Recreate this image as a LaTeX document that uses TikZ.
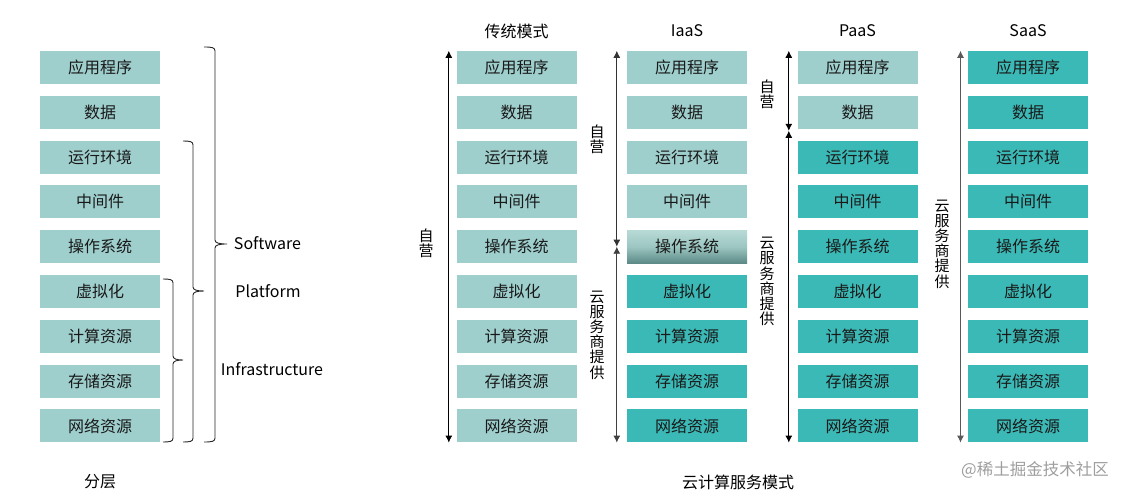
\documentclass[tikz,border=0pt]{standalone}
\usepackage{fontspec}
\setmainfont{Noto Sans CJK SC}
\usetikzlibrary{arrows.meta}
\definecolor{lt}{HTML}{9ECFCD}
\definecolor{dk}{HTML}{3BB9B6}
\definecolor{gtop}{HTML}{B8DAD6}
\definecolor{gmid}{HTML}{9CC6C2}
\definecolor{gbot}{HTML}{5C8A86}
\begin{document}
\begin{tikzpicture}[x=1pt,y=-1pt,
  layer/.style={minimum width=120pt,minimum height=33pt,inner sep=0pt,
    font=\fontsize{16}{18}\selectfont,text=black!90},
  light/.style={layer,fill=lt},
  dark/.style={layer,fill=dk},
  grad/.style={layer,top color=gtop,bottom color=gbot,middle color=gmid},
  head/.style={font=\fontsize{16}{18}\selectfont,inner sep=0pt},
  vlabel/.style={font=\fontsize{15}{15.2}\selectfont,align=center,inner sep=0pt},
  arr/.style={{Latex[length=7pt,width=7pt]}-{Latex[length=7pt,width=7pt]},line width=0.9pt},
  brace/.style={line width=0.9pt,black!85}
]
\useasboundingbox (0,0) rectangle (1132,497);

% left column (all light), traditional column, SaaS column
\foreach \n/\t [count=\i from 0] in {app/应用程序,data/数据,rt/运行环境,mw/中间件,os/操作系统,virt/虚拟化,cpu/计算资源,sto/存储资源,net/网络资源}{
  \node[light] (L-\n) at (100,{67.5+44.8*\i}) {\t};
  \node[light] (T-\n) at (516.5,{67.5+44.8*\i}) {\t};
  \node[dark] (S-\n) at (1028,{67.5+44.8*\i}) {\t};
}
% IaaS
\foreach \n/\t [count=\i from 0] in {app/应用程序,data/数据,rt/运行环境,mw/中间件}{
  \node[light] (I-\n) at (687,{67.5+44.8*\i}) {\t};
}
\node[grad] (I-os) at (687,{67.5+44.8*4}) {操作系统};
\foreach \n/\t [count=\i from 5] in {virt/虚拟化,cpu/计算资源,sto/存储资源,net/网络资源}{
  \node[dark] (I-\n) at (687,{67.5+44.8*\i}) {\t};
}
% PaaS
\foreach \n/\t [count=\i from 0] in {app/应用程序,data/数据}{
  \node[light] (P-\n) at (857.5,{67.5+44.8*\i}) {\t};
}
\foreach \n/\t [count=\i from 2] in {rt/运行环境,mw/中间件,os/操作系统,virt/虚拟化,cpu/计算资源,sto/存储资源,net/网络资源}{
  \node[dark] (P-\n) at (857.5,{67.5+44.8*\i}) {\t};
}

% headers
\node[head] (hT) at (516.5,31) {传统模式};
\node[head] (hI) at (687,31) {IaaS};
\node[head] (hP) at (857.5,31) {PaaS};
\node[head] (hS) at (1028,31) {SaaS};

% braces
\draw[brace] (204,47) .. controls (212,47) and (215,47.5) .. (215,51)
  -- (215,240) .. controls (215,243) and (219,244) .. (227,244)
  .. controls (219,244) and (215,245) .. (215,248)
  -- (215,438) .. controls (215,441.5) and (212,442) .. (204,442);
\draw[brace] (183,141) .. controls (190,141) and (193,141.5) .. (193,145)
  -- (193,287) .. controls (193,290) and (197,291) .. (204,291)
  .. controls (197,291) and (193,292) .. (193,295)
  -- (193,438) .. controls (193,441.5) and (190,442) .. (183,442);
\draw[brace] (163,279) .. controls (170,279) and (173,279.5) .. (173,283)
  -- (173,356) .. controls (173,359) and (177,360) .. (183,360)
  .. controls (177,360) and (173,361) .. (173,364)
  -- (173,438) .. controls (173,441.5) and (170,442) .. (163,442);
\node[head] (lS) at (267.5,243) {Software};
\node[head] (lP) at (268,291) {Platform};
\node[head] (lI) at (272,369) {Infrastructure};

% arrows
\path (T-app.north west) ++(-7.5,0) coordinate (Ttop);
\path (T-net.south west) ++(-7.5,0) coordinate (Tbot);
\draw[arr] (Ttop) -- (Tbot);
\path (I-app.north west) ++(-10,0) coordinate (Itop);
\path (I-os.west) ++(-10,0) coordinate (Imid);
\path (I-net.south west) ++(-10,0) coordinate (Ibot);
\draw[arr,black!80] (Itop) -- (Imid);
\draw[arr,black!75] (Imid) -- (Ibot);
\path (P-app.north west) ++(-8.5,0) coordinate (Ptop);
\path (P-app.north west) ++(-8.5,80) coordinate (Pmid);
\path (P-net.south west) ++(-8.5,0) coordinate (Pbot);
\draw[arr] (Ptop) -- (Pmid);
\draw[arr] (Pmid) -- (Pbot);
\path (S-app.north west) ++(-7.3,0) coordinate (Stop);
\path (S-net.south west) ++(-7.3,0) coordinate (Sbot);
\draw[arr,black!65] (Stop) -- (Sbot);

% vertical labels
\node[vlabel] (vT) at (426,243.5) {自\\营};
\node[vlabel] (vI1) at (597,139) {自\\营};
\node[vlabel] (vI2) at (597,335) {云\\服\\务\\商\\提\\供};
\node[vlabel] (vP1) at (767,94) {自\\营};
\node[vlabel] (vP2) at (767,281.5) {云\\服\\务\\商\\提\\供};
\node[vlabel] (vS) at (942,244) {云\\服\\务\\商\\提\\供};

% bottom labels
\node[head] (b1) at (100,482) {分层};
\node[head] (b2) at (738,482) {云计算服务模式};
\node[font=\fontsize{16.5}{18}\selectfont,text=black!38,inner sep=0pt] (wm) at (1035,470) {@稀土掘金技术社区};
\end{tikzpicture}
\end{document}
